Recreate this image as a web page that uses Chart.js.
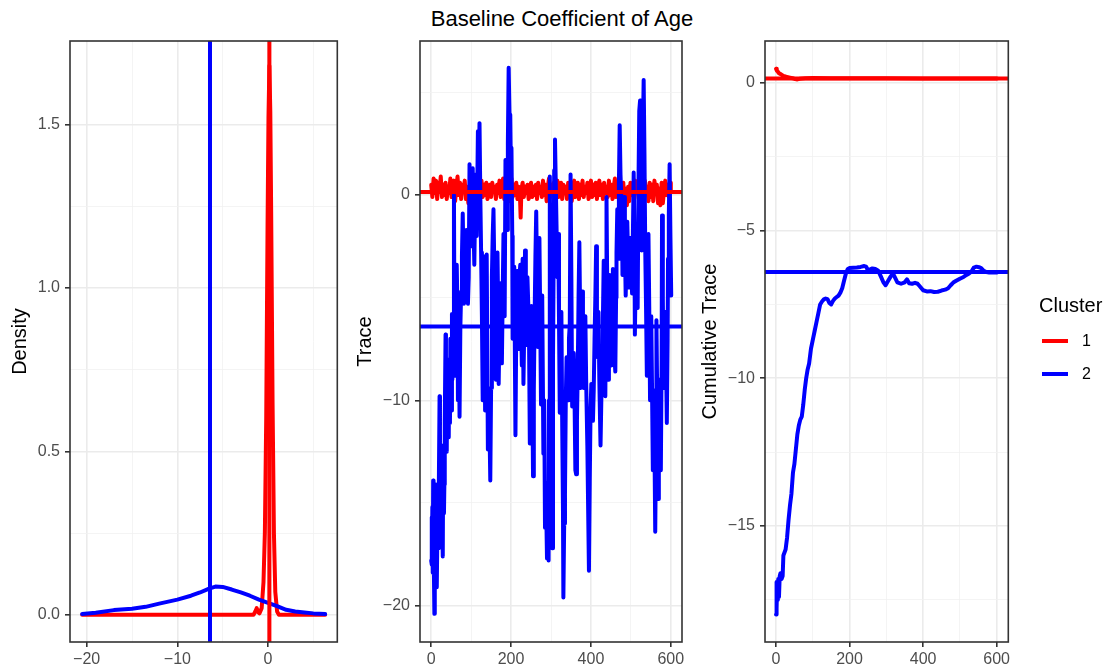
<!DOCTYPE html>
<html>
<head>
<meta charset="utf-8">
<script src="https://cdn.jsdelivr.net/npm/chart.js@4.4.1/dist/chart.umd.min.js"></script>
<style>
  body { margin: 0; background: #fff; }
  #wrap { position: relative; width: 1109px; height: 670px; font-family: "Liberation Sans", Arial, sans-serif; }
  canvas { position: absolute; top: 0; }
  #title { position: absolute; top: 8px; left: 562px; transform: translateX(-50%); font-size: 22px; line-height: 22px; white-space: nowrap; color: #000; }
  .legend-title { position: absolute; left: 1039px; top: 295px; font-size: 20px; line-height: 20px; }
  .key { position: absolute; left: 1042px; width: 26px; height: 4px; }
  .key-label { position: absolute; left: 1082px; font-size: 16px; line-height: 16px; color: #000; }
</style>
</head>
<body>
<div id="wrap">
  <div id="title">Baseline Coefficient of Age</div>
  <canvas id="density" width="345" height="670" style="left:0px"></canvas>
  <canvas id="trace" width="345" height="670" style="left:345px"></canvas>
  <canvas id="cumulative" width="419" height="670" style="left:690px"></canvas>
  <div class="legend-title">Cluster</div>
  <div class="key" style="top:339px;background:#FF0000"></div>
  <div class="key-label" style="top:333px">1</div>
  <div class="key" style="top:372px;background:#0000FF"></div>
  <div class="key-label" style="top:366px">2</div>
</div>
<script>
// ---- data ----
const clusters = ['1', '2'];
const clusterColors = ['#FF0000', '#0000FF'];

// posterior means (vertical / horizontal reference lines)
const meanRed = 0.15;
const meanBlue = -6.4;

// density curves
const densityRedX = [-20.5, -1.6, -1.4, -1.25, -1.1, -0.95, -0.7, -0.5, -0.35, -0.2, -0.05, 0.05, 0.15, 0.25, 0.35, 0.5, 0.65, 0.8, 1.0, 1.2, 6.3];
const densityRedY = [0, 0, 0.01, 0.02, 0.008, 0.004, 0.02, 0.1, 0.25, 0.6, 1.2, 1.52, 1.68, 1.54, 1.22, 0.65, 0.25, 0.07, 0.01, 0, 0];
const densityBlueX = [-20.5, -19, -17, -15, -13.5, -12, -10, -8.5, -7.5, -6.5, -5.8, -5, -4, -3, -2, -1, 0, 1, 2, 3, 4, 5, 6.3];
const densityBlueY = [0.002, 0.006, 0.014, 0.018, 0.024, 0.034, 0.046, 0.058, 0.068, 0.08, 0.086, 0.085, 0.077, 0.068, 0.058, 0.046, 0.036, 0.026, 0.015, 0.01, 0.007, 0.004, 0.002];

// trace: [iteration, value]
const traceRed = [
  [0,0.5],[3,-0.1],[6,0.8],[9,0.1],[12,0.7],[15,-0.2],[18,0.6],[21,0.3],[24,0.9],[27,-0.1],[30,0.5],[33,0.0],[36,0.6],[39,-0.2],
  [42,0.4],[45,0.1],[48,0.8],[51,-0.1],[54,0.3],[57,0.7],[60,-0.3],[63,0.4],[66,0.9],[69,0.0],[72,0.6],[75,-0.2],[78,0.5],[81,0.2],
  [84,0.7],[87,-0.2],[90,0.4],[93,-0.4],[96,0.3],[99,0.8],[102,0.0],[105,0.5],[108,-0.2],[111,0.6],[114,0.1],[117,0.5],[120,-0.3],
  [123,0.4],[126,0.7],[129,-0.1],[132,0.5],[135,0.0],[138,0.6],[141,-0.2],[144,0.3],[147,0.5],[150,-0.1],[153,0.6],[156,0.2],[159,0.4],
  [162,-0.2],[165,0.5],[168,0.1],[171,0.7],[174,-0.1],[177,0.4],[180,0.8],[183,-0.2],[186,0.5],[189,0.0],[192,0.7],[195,-0.3],[198,0.4],
  [201,0.8],[204,-0.1],[207,0.5],[210,0.0],[213,0.6],[216,-0.2],[219,0.4],[222,0.1],[224,-1.1],[226,0.3],[229,0.6],[232,-0.1],[235,0.4],
  [238,0.1],[241,0.5],[244,-0.2],[247,0.3],[250,0.6],[253,-0.1],[256,0.4],[259,0.0],[262,0.5],[265,-0.2],[268,0.6],[271,0.1],[274,0.4],
  [277,-0.1],[280,0.7],[283,0.0],[286,0.5],[289,-0.3],[292,0.4],[295,0.8],[298,-0.1],[301,0.5],[304,0.0],[307,0.6],[310,-0.2],[313,0.4],
  [316,0.7],[319,-0.1],[322,0.3],[325,0.6],[328,-0.2],[331,0.5],[334,0.1],[337,0.4],[340,-0.2],[343,0.6],[346,0.0],[349,0.5],[352,-0.3],
  [355,0.4],[358,0.7],[361,-0.1],[364,0.3],[367,0.6],[370,-0.2],[373,0.5],[376,0.0],[379,0.7],[382,-0.1],[385,0.4],[388,0.1],[391,0.6],
  [394,-0.2],[397,0.3],[400,0.7],[403,-0.1],[406,0.5],[409,0.0],[412,0.6],[415,-0.2],[418,0.4],[421,0.7],[424,0.0],[427,0.5],[430,-0.2],
  [433,0.6],[436,0.1],[439,0.4],[442,-0.1],[445,0.7],[448,0.0],[451,0.5],[454,-0.2],[457,0.4],[460,0.8],[463,-0.1],[466,0.3],[469,0.6],
  [472,-0.2],[475,0.5],[478,0.1],[481,0.6],[484,-0.4],[487,0.3],[490,-0.5],[493,0.4],[496,-0.3],[499,0.6],[502,0.0],[505,0.5],[508,-0.2],
  [511,0.7],[514,0.1],[517,0.4],[520,-0.2],[523,0.6],[526,0.0],[529,0.5],[532,-0.1],[535,0.7],[538,0.1],[541,0.4],[544,-0.3],[547,0.6],
  [550,-0.1],[553,0.5],[556,-0.3],[559,0.7],[562,0.2],[565,0.5],[568,-0.4],[571,0.3],[574,-0.5],[577,0.6],[580,-0.4],[583,0.2],[586,0.7],
  [589,0.0],[592,0.5],[595,-0.1],[598,0.6],[600,0.2]
];
const traceBlue = [
  [0,-17.8],[1,-15.7],[2,-18.0],[3,-15.2],[4,-18.4],[5,-13.9],[6,-17.0],[8,-20.4],[9,-16.5],[10,-14.1],[12,-18.0],[13,-15.0],[14,-19.1],
  [16,-15.6],[18,-17.2],[19,-14.5],[21,-9.8],[22,-13.5],[23,-16.5],[25,-12.2],[27,-15.0],[29,-17.6],[30,-13.0],[32,-15.5],[33,-14.1],
  [34,-11.0],[36,-6.8],[37,-10.5],[39,-12.5],[40,-9.0],[42,-9.2],[44,-11.8],[45,-8.0],[47,-11.1],[48,-7.0],[50,-10.5],[52,-5.8],[53,-9.0],
  [55,-7.7],[57,0],[58,-5.0],[60,-8.8],[61,-4.0],[63,-7.5],[64,-3.4],[66,-6.0],[67,-10.0],[69,-5.5],[71,-10.8],[73,-6.5],[75,-4.7],
  [77,-3.0],[79,-0.9],[81,-3.5],[82,-5.3],[84,-2.0],[86,-4.5],[88,-1.7],[90,-3.0],[92,-5.3],[94,-4.0],[96,1.5],[98,-1.0],[100,-2.5],
  [102,0.5],[104,1.3],[106,-1.5],[108,-3.4],[110,-0.5],[112,1.0],[114,-2.0],[117,3.1],[119,1.0],[121,3.5],[123,0.0],[125,-2.8],[127,-5.9],
  [129,-10.0],[131,-5.0],[133,-3.0],[135,-10.5],[137,-6.0],[139,-2.9],[142,-12.4],[145,-10.0],[148,-13.9],[150,-9.4],[152,-4.0],[154,-2.0],
  [156,-0.7],[158,-3.5],[160,-5.9],[162,-9.0],[164,-5.0],[166,-2.8],[168,-6.0],[169,-9.2],[171,-6.5],[173,-4.3],[175,-6.0],[177,-8.2],
  [179,-5.0],[181,-1.9],[183,-3.5],[184,-5.9],[186,1.7],[188,-0.5],[190,-1.7],[192,2.5],[194,6.2],[196,4.0],[198,3.9],[200,0.5],[201,2.3],
  [203,-2.0],[204,-7.0],[206,-5.5],[208,-3.5],[211,-11.7],[213,-6.5],[215,-3.7],[217,-5.5],[219,-7.5],[221,-4.0],[223,-3.4],[225,-6.0],
  [227,-8.3],[229,-3.1],[231,-9.2],[233,-6.5],[235,-2.7],[237,-5.0],[239,-7.3],[241,-4.0],[243,-5.3],[245,-7.0],[247,-12.1],[249,-8.0],
  [251,-5.4],[253,-9.0],[255,-13.7],[257,-9.5],[259,-5.9],[261,-3.0],[263,-0.8],[265,-4.0],[267,-7.4],[269,-4.5],[271,-2.1],[273,-6.0],
  [275,-10.2],[277,-7.0],[278,-4.9],[281,-12.6],[283,-10.0],[285,-16.2],[287,-14.0],[290,-17.7],[292,-16.5],[294,-17.8],[295,-10.0],
  [297,0.9],[299,-5.0],[300,-12.6],[302,-15.0],[303,-17.2],[305,-8.0],[307,-2.0],[308,1.2],[310,2.7],[312,0.5],[314,-1.7],[316,-4.0],
  [318,-1.9],[320,-6.0],[322,-10.6],[324,-7.0],[326,-5.7],[328,-11.0],[330,-15.4],[331,-19.6],[333,-16.0],[335,-14.6],[337,-10.0],
  [339,-7.9],[341,-9.5],[343,-10.0],[345,-7.0],[347,-6.3],[349,1.0],[351,-4.0],[353,-10.3],[355,-8.5],[357,-7.7],[359,-10.0],[361,-13.4],
  [363,-13.6],[365,-11.0],[367,-8.6],[369,-5.0],[371,-2.3],[373,-6.0],[374,-9.4],[376,-7.0],[378,-4.7],[380,-7.5],[382,-9.4],[384,-7.0],
  [386,-5.9],[388,-9.0],[391,-12.2],[395,-18.3],[397,-14.0],[399,-10.5],[401,-9.2],[403,-10.0],[405,-11.0],[407,-9.5],[409,-7.0],
  [411,-5.0],[413,-2.5],[415,-6.5],[417,-7.9],[419,-5.7],[421,-9.0],[424,-12.2],[426,-10.0],[428,-8.4],[430,-6.0],[432,-3.2],[434,-6.5],
  [436,-9.8],[438,-5.0],[439,-0.1],[441,-5.0],[443,-9.0],[445,-6.0],[447,-3.9],[449,-6.5],[451,-8.3],[453,-5.0],[455,-3.6],[457,-6.0],
  [458,-7.5],[461,-8.6],[463,-5.0],[464,-2.8],[466,-0.7],[468,-3.1],[470,0.5],[472,3.4],[474,1.0],[476,-0.1],[478,-2.0],[479,-3.9],
  [481,-1.5],[483,-0.1],[485,-2.5],[487,-4.9],[489,-3.0],[491,-1.3],[493,-3.0],[495,-4.5],[497,-3.0],[499,-2.1],[501,-3.5],[503,-4.8],
  [505,-2.0],[507,1.1],[509,-2.5],[510,-6.8],[512,-4.0],[514,-1.5],[516,-3.5],[517,-5.5],[519,0.5],[521,4.1],[523,4.6],[525,1.0],
  [527,-2.7],[529,1.5],[532,5.6],[534,2.0],[536,-2.7],[538,-5.5],[540,-8.8],[542,-5.0],[544,-1.9],[546,-5.5],[548,-10.0],[550,-7.0],
  [551,-5.9],[553,-9.5],[555,-13.4],[557,-11.0],[558,-9.8],[561,-16.4],[563,-12.0],[564,-6.1],[566,-10.0],[568,-14.8],[570,-12.0],
  [571,-9.0],[573,-11.0],[575,-13.4],[577,-8.0],[578,-1.0],[580,-5.0],[582,-9.4],[584,-7.0],[586,-5.7],[588,-8.0],[590,-11.1],[592,-7.0],
  [593,-3.1],[595,-1.0],[597,1.5],[599,-2.0],[601,-4.9]
];

// cumulative (running mean) trace: [iteration, value]
const cumRed = [
  [0,0.48],[2,0.42],[5,0.38],[8,0.33],[12,0.3],[16,0.27],[20,0.24],[25,0.22],[30,0.2],[38,0.18],[45,0.16],[52,0.13],[58,0.12],
  [65,0.14],[80,0.16],[100,0.17],[150,0.16],[200,0.16],[300,0.16],[400,0.15],[500,0.15],[601,0.15]
];
const cumBlue = [
  [0,-18.0],[1,-16.9],[2,-17.8],[3,-17.0],[5,-17.5],[6,-16.8],[8,-17.4],[10,-16.7],[12,-16.6],[15,-16.8],[18,-16.7],[20,-16.0],
  [23,-15.9],[26,-15.8],[30,-15.4],[34,-14.8],[38,-14.3],[42,-13.9],[46,-13.2],[50,-12.9],[54,-12.4],[58,-11.9],[62,-11.6],[66,-11.4],
  [70,-11.3],[74,-10.9],[78,-10.4],[82,-10.0],[86,-9.7],[90,-9.5],[95,-9.0],[100,-8.7],[105,-8.4],[110,-8.1],[115,-7.8],[120,-7.5],
  [125,-7.4],[130,-7.33],[135,-7.3],[140,-7.32],[145,-7.45],[150,-7.5],[155,-7.38],[160,-7.3],[165,-7.25],[170,-7.2],[175,-7.1],
  [180,-6.95],[185,-6.7],[190,-6.45],[195,-6.3],[200,-6.27],[210,-6.26],[220,-6.25],[230,-6.23],[240,-6.2],[245,-6.22],[250,-6.35],
  [255,-6.32],[262,-6.28],[270,-6.3],[278,-6.36],[285,-6.55],[292,-6.75],[298,-6.85],[305,-6.7],[312,-6.55],[318,-6.45],[324,-6.6],
  [330,-6.75],[340,-6.8],[350,-6.75],[356,-6.65],[362,-6.78],[370,-6.8],[378,-6.77],[385,-6.8],[392,-6.9],[400,-7.02],[410,-7.06],
  [420,-7.05],[430,-7.08],[440,-7.07],[450,-7.03],[460,-7.0],[468,-6.95],[475,-6.85],[482,-6.76],[490,-6.7],[500,-6.63],[510,-6.57],
  [518,-6.5],[525,-6.45],[532,-6.38],[538,-6.25],[545,-6.22],[552,-6.24],[558,-6.27],[565,-6.36],[572,-6.4],[580,-6.42],[590,-6.41],
  [600,-6.42]
];

// axis breaks (grid lines) and the labelled ones
const densityXTicks = [-20, -15, -10, -5, 0, 5];
const densityXMajor = [-20, -10, 0];
const densityYTicks = [0, 0.25, 0.5, 0.75, 1, 1.25, 1.5];
const densityYMajor = [0, 0.5, 1, 1.5];
const iterTicks = [0, 100, 200, 300, 400, 500, 600];
const iterMajor = [0, 200, 400, 600];
const traceYTicks = [-20, -15, -10, -5, 0, 5];
const traceYMajor = [-20, -10, 0];
const cumYTicks = [-17.5, -15, -12.5, -10, -7.5, -5, -2.5, 0];
const cumYMajor = [-15, -10, -5, 0];

// ---- drawing ----
const FONT = '"Liberation Sans", Arial, sans-serif';

const fmt = (v, decimals) => (decimals ? v.toFixed(decimals) : String(v)).replace('-', '\u2212');

function axis(min, max, ticks, majors, o) {
  const isMajor = v => majors.some(m => Math.abs(m - v) < 1e-9);
  const a = {
    type: 'linear',
    min: min,
    max: max,
    afterBuildTicks: s => { s.ticks = ticks.map(v => ({ value: v })); },
    afterFit: s => { if (o.width) s.width = o.width; if (o.height) s.height = o.height; },
    ticks: {
      autoSkip: false, maxRotation: 0, minRotation: 0,
      color: '#4D4D4D', font: { size: 16, family: FONT }, padding: o.pad,
      callback: v => isMajor(v) ? fmt(v, o.decimals) : ''
    },
    grid: {
      color: c => isMajor(c.tick.value) ? '#EBEBEB' : '#F1F1F1',
      lineWidth: c => isMajor(c.tick.value) ? 1.6 : 0.8,
      tickLength: 5,
      tickWidth: 1.6,
      tickColor: c => isMajor(c.tick.value) ? '#333333' : 'rgba(0,0,0,0)'
    },
    border: { display: false }
  };
  if (o.title) {
    a.title = { display: true, text: o.title, color: '#000', font: { size: 20, family: FONT }, padding: { top: o.titlePad, bottom: 0 } };
  }
  return a;
}

const frame = {
  id: 'frame',
  afterDatasetsDraw(chart) {
    const { ctx, chartArea: a } = chart;
    ctx.save();
    ctx.strokeStyle = '#333333';
    ctx.lineWidth = 1.6;
    ctx.strokeRect(a.left, a.top, a.right - a.left, a.bottom - a.top);
    ctx.restore();
  }
};

const pts = pairs => pairs.map(([x, y]) => ({ x: x, y: y }));
const zip = (xs, ys) => xs.map((x, i) => ({ x: x, y: ys[i] }));
const vline = x => [{ x: x, y: -100 }, { x: x, y: 100 }];
const hline = y => [{ x: -1000, y: y }, { x: 2000, y: y }];

function line(data, color) {
  return {
    data: data, borderColor: color, borderWidth: 4, pointRadius: 0, tension: 0, fill: false,
    borderJoinStyle: 'round', borderCapStyle: 'round'
  };
}

function panel(id, datasets, x, y, padRight) {
  return new Chart(document.getElementById(id), {
    type: 'line',
    data: { datasets: datasets },
    options: {
      responsive: false,
      animation: false,
      devicePixelRatio: 1,
      layout: { padding: { top: 41, left: 0, right: padRight, bottom: 0 } },
      plugins: { legend: { display: false }, tooltip: { enabled: false } },
      scales: { x: x, y: y }
    },
    plugins: [frame]
  });
}

const [red, blue] = clusterColors;

// Chart.js paints the first dataset on top, so the list runs top-most first
panel('density', [
  line(vline(meanBlue), blue),
  line(vline(meanRed), red),
  line(zip(densityBlueX, densityBlueY), blue),
  line(zip(densityRedX, densityRedY), red)
],
  axis(-21.84, 7.64, densityXTicks, densityXMajor, { height: 28, pad: 3 }),
  axis(-0.0836, 1.756, densityYTicks, densityYMajor, { width: 70, pad: 5, decimals: 1, title: 'Density', titlePad: 8.5 }),
  7.7);

panel('trace', [
  line(hline(meanBlue), blue),
  line(hline(meanRed), red),
  line(pts(traceBlue), blue),
  line(pts(traceRed), red)
],
  axis(-28, 628, iterTicks, iterMajor, { height: 28, pad: 3 }),
  axis(-21.77, 7.5, traceYTicks, traceYMajor, { width: 75, pad: 5, title: 'Trace', titlePad: 8.3 }),
  8);

panel('cumulative', [
  line(hline(meanBlue), blue),
  line(hline(meanRed), red),
  line(pts(cumBlue), blue),
  line(pts(cumRed), red)
],
  axis(-30, 631.7, iterTicks, iterMajor, { height: 28, pad: 3 }),
  axis(-18.93, 1.42, cumYTicks, cumYMajor, { width: 75, pad: 5, title: 'Cumulative Trace', titlePad: 8 }),
  100.7);
</script>
</body>
</html>
